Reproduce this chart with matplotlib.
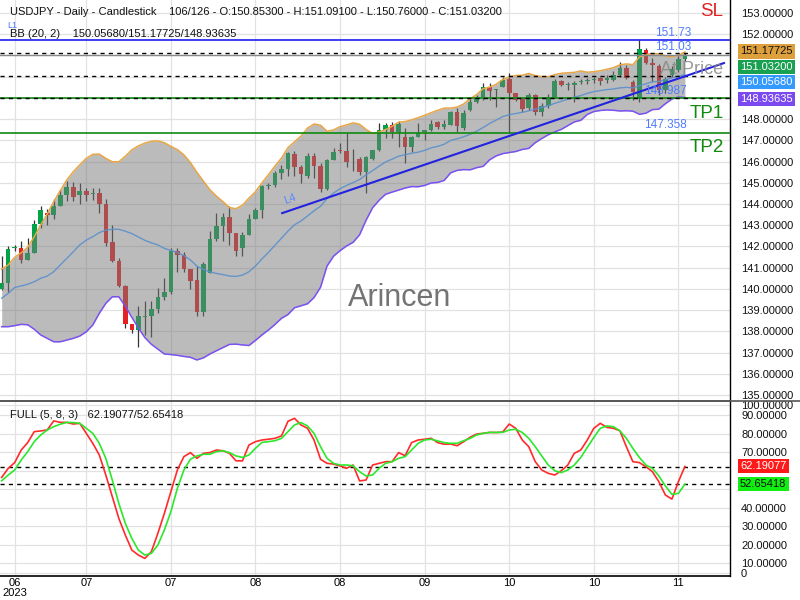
import numpy as np
import pandas as pd
import matplotlib
matplotlib.use("Agg")
import matplotlib.pyplot as plt

plt.rcParams['font.family'] = ['Liberation Sans', 'DejaVu Sans']

# ---------------- data ----------------
opens = [139.99, 140.29, 141.92, 141.93, 141.36, 141.69, 143.06, 143.58, 143.50, 143.92,
         144.42, 144.81, 144.42, 144.61, 144.45, 144.53, 144.00, 142.22, 141.31, 140.14,
         138.35, 138.06, 138.70, 138.72, 139.07, 139.63, 139.85, 141.78, 141.58, 140.92,
         140.42, 138.93, 140.76, 142.35, 142.96, 143.37, 142.62, 141.91, 142.54, 143.29,
         143.72, 144.84, 144.89, 145.44, 145.65, 146.35, 145.73, 145.33, 146.26, 145.79,
         144.71, 146.07, 146.56, 146.50, 146.05, 146.12, 145.52, 146.10, 146.54, 147.48,
         147.72, 147.40, 147.14, 146.67, 147.17, 147.39, 147.48, 147.88, 147.64, 147.72,
         148.32, 147.56, 148.43, 148.82, 149.05, 149.50, 149.35, 149.52, 149.89, 149.21,
         148.93, 148.51, 149.13, 148.35, 148.62, 149.06, 149.79, 149.60, 149.61, 149.74,
         149.78, 149.85, 149.92, 149.84, 149.84, 150.08, 150.39, 149.76, 148.98, 151.27,
         150.62, 150.50, 149.38, 150.08, 150.30, 150.853]
highs = [141.55, 142.02, 142.05, 142.26, 142.41, 143.25, 143.92, 143.75, 144.22, 144.66,
         145.08, 145.05, 145.00, 144.74, 144.74, 144.74, 144.22, 143.01, 141.44, 140.18,
         138.35, 139.19, 139.43, 139.44, 140.03, 140.50, 141.91, 141.91, 141.75, 140.92,
         141.08, 141.28, 142.74, 143.56, 143.59, 143.91, 142.65, 142.69, 143.53, 143.80,
         144.89, 145.00, 145.57, 145.84, 146.46, 146.50, 145.84, 146.41, 146.39, 145.92,
         146.10, 146.65, 146.86, 147.36, 146.58, 146.23, 146.26, 146.56, 147.80, 147.83,
         147.85, 147.91, 147.56, 147.20, 147.80, 147.50, 147.96, 147.90, 147.96, 148.40,
         148.51, 148.43, 148.93, 149.13, 149.68, 149.68, 149.40, 150.00, 150.18, 149.25,
         149.00, 149.22, 149.17, 148.74, 149.17, 149.89, 149.84, 149.76, 149.79, 149.87,
         149.95, 150.00, 149.98, 150.08, 150.26, 150.70, 150.55, 149.84, 151.72, 151.33,
         150.86, 150.58, 150.00, 150.52, 150.95, 151.091]
lows = [139.95, 139.87, 141.80, 141.24, 141.36, 141.69, 142.85, 143.01, 143.29, 143.90,
        144.14, 144.15, 144.01, 144.15, 144.18, 143.59, 142.02, 141.28, 140.10, 138.14,
        137.94, 137.28, 137.83, 137.72, 138.88, 139.48, 139.76, 140.78, 140.78, 139.98,
        138.72, 138.72, 140.73, 142.27, 142.27, 142.07, 141.56, 141.56, 142.54, 143.29,
        143.33, 144.70, 144.79, 145.16, 145.33, 145.33, 144.97, 145.21, 145.21, 144.58,
        144.66, 146.07, 146.39, 145.72, 145.55, 145.36, 144.50, 146.05, 146.51, 147.09,
        147.09, 146.67, 145.94, 146.47, 147.14, 147.01, 147.45, 147.55, 147.55, 147.70,
        147.40, 147.48, 148.40, 148.74, 148.90, 148.90, 148.58, 149.50, 147.36, 148.85,
        148.32, 148.45, 148.19, 148.14, 148.54, 149.02, 149.57, 149.37, 148.82, 149.65,
        149.64, 149.68, 149.60, 149.68, 149.80, 150.00, 149.87, 148.90, 148.80, 150.58,
        149.76, 149.15, 149.21, 149.98, 150.20, 150.76]
closes = [140.26, 141.88, 141.95, 141.36, 141.69, 143.06, 143.72, 143.50, 143.90, 144.42,
          144.80, 144.31, 144.61, 144.42, 144.50, 144.00, 142.15, 141.33, 140.14, 138.35,
          138.06, 138.72, 138.74, 139.04, 139.63, 139.85, 141.78, 141.58, 140.92, 140.39,
          138.93, 141.17, 142.35, 142.96, 143.40, 142.65, 141.80, 142.54, 143.29, 143.72,
          144.85, 144.87, 145.44, 145.65, 146.39, 145.73, 145.41, 146.27, 145.79, 144.69,
          146.07, 146.43, 146.50, 145.99, 146.09, 145.52, 146.23, 146.54, 147.48, 147.72,
          147.40, 147.77, 146.67, 147.14, 147.36, 147.48, 147.77, 147.64, 147.77, 148.33,
          147.67, 148.28, 148.82, 149.01, 149.50, 149.34, 149.38, 149.84, 149.21, 148.90,
          148.46, 149.15, 148.35, 148.63, 149.06, 149.79, 149.60, 149.65, 149.71, 149.78,
          149.80, 149.88, 149.81, 149.92, 150.08, 150.39, 149.92, 149.29, 151.30, 150.62,
          150.55, 149.35, 149.90, 150.35, 150.85, 151.032]

# Bollinger values of the first 19 bars (their window starts before the visible data)
bb_upper_head = [140.94, 141.13, 141.49, 141.70, 141.96, 142.46, 143.01, 143.53, 144.11, 144.63,
                 145.13, 145.52, 145.84, 146.15, 146.34, 146.35, 146.15, 145.99, 145.99]
bb_mid_head = [139.56, 139.79, 140.07, 140.14, 140.22, 140.34, 140.50, 140.61, 140.81, 141.13,
               141.44, 141.75, 142.07, 142.30, 142.46, 142.65, 142.77, 142.81, 142.81]
bb_lower_head = [138.22, 138.22, 138.27, 138.33, 138.31, 138.10, 137.83, 137.67, 137.51, 137.51,
                 137.59, 137.67, 137.78, 137.98, 138.30, 138.85, 139.32, 139.63, 139.63]

stoch_k = [56.3, 61.2, 64.3, 71.1, 75.1, 81.0, 81.4, 81.9, 86.8, 86.0,
           86.0, 85.1, 85.5, 80.1, 74.7, 68.4, 57.6, 45.9, 34.2, 25.2,
           17.1, 14.4, 12.6, 16.2, 26.1, 36.9, 48.6, 60.3, 67.5, 69.7,
           66.6, 69.3, 69.7, 71.1, 70.7, 69.3, 65.3, 65.2, 73.8, 75.6,
           76.5, 76.9, 77.4, 78.7, 86.6, 88.2, 84.6, 82.8, 76.5, 66.1,
           63.9, 63.5, 62.5, 61.2, 63.0, 54.4, 54.9, 63.0, 63.9, 64.8,
           64.8, 69.7, 68.0, 75.1, 76.5, 76.9, 77.4, 75.1, 74.2, 74.3,
           73.4, 75.6, 78.0, 79.7, 80.1, 80.6, 80.5, 80.8, 85.1, 82.8,
           76.5, 72.9, 64.8, 60.3, 58.5, 57.6, 59.9, 63.0, 69.3, 71.1,
           76.5, 82.8, 85.5, 83.3, 82.8, 81.5, 72.9, 64.8, 64.3, 62.1,
           59.4, 54.0, 46.8, 44.6, 54.0, 62.19077]
stoch_d = [54.5, 57.6, 60.3, 65.7, 70.2, 75.6, 79.2, 81.9, 83.7, 85.0,
           86.0, 85.9, 85.5, 82.8, 80.1, 74.7, 66.6, 54.9, 42.3, 31.5,
           23.4, 17.1, 14.4, 15.3, 19.8, 27.9, 37.8, 50.4, 60.3, 66.1,
           67.9, 68.8, 68.8, 70.2, 70.7, 69.7, 67.9, 67.1, 68.4, 72.0,
           75.2, 75.6, 76.1, 77.4, 81.0, 84.6, 85.9, 84.1, 80.1, 72.9,
           66.6, 63.9, 63.0, 63.0, 62.6, 59.4, 57.1, 57.6, 61.2, 63.9,
           64.8, 66.6, 67.5, 71.1, 74.7, 76.5, 76.9, 76.0, 75.1, 74.7,
           74.7, 76.1, 77.4, 79.2, 80.1, 80.6, 80.6, 80.6, 81.9, 82.3,
           80.6, 77.4, 72.9, 67.9, 63.0, 59.9, 58.9, 60.3, 63.0, 67.1,
           72.5, 77.9, 82.8, 84.1, 83.7, 81.5, 77.4, 72.0, 67.1, 63.0,
           61.2, 57.1, 51.7, 47.2, 47.7, 52.65418]

x_tick_idx = [2, 13, 26, 39, 52, 65, 78, 91, 104]
x_tick_labels = ['06\n2023', '07', '07', '08', '08', '09', '10', '10', '11']

line_l1 = 151.73
dash_levels = [151.13, 150.04, 148.987]
tp_levels = [148.987, 147.358]
last_price = 151.032
l4_start = (43.1, 143.57)
l4_end = (111.0, 150.64)

price_ticks = [153, 152, 148, 147, 146, 145, 144, 143, 142, 141, 140, 139, 138, 137, 136, 135]

# ---------------- figure ----------------
W, H = 800, 600
fig = plt.figure(figsize=(8, 6), dpi=100)


def fx(px):
    return px / W


def fy(py):
    return 1 - py / H


ax = fig.add_axes([0, fy(401), fx(730), fy(0) - fy(401)])
ax2 = fig.add_axes([0, fy(576), fx(730), fy(402) - fy(576)])

n = len(closes)
idx = np.arange(n)
o = np.array(opens)
c = np.array(closes)
hi = np.array(highs)
lo = np.array(lows)

xlim = (-0.26, 111.93)
ax.set_xlim(*xlim)
ax.set_ylim(134.72, 153.61)
ax2.set_xlim(*xlim)
ax2.set_ylim(3.1, 97.0)

grid_c = '#e2e2e2'
for p in range(135, 154):
    ax.axhline(p, color=grid_c, lw=0.9, zorder=0)
for t in x_tick_idx:
    ax.axvline(t, color=grid_c, lw=0.9, zorder=0)
    ax2.axvline(t, color=grid_c, lw=0.9, zorder=0)
for v in [4.9, 10, 20, 30, 40, 50, 60, 70, 80, 90, 95.5]:
    ax2.axhline(v, color=grid_c, lw=0.9, zorder=0)

# candles
up = c >= o
body_col = np.where(up, '#00a347', '#e52222')
ax.vlines(idx, lo, hi, color='#333333', lw=0.9, zorder=2)
body_bot = np.minimum(o, c)
body_h = np.maximum(np.abs(c - o), 0.045)
ax.bar(idx, body_h, bottom=body_bot, width=0.7, color=body_col, lw=0, zorder=3)

# Bollinger bands
s = pd.Series(c)
mid = s.rolling(20).mean().to_numpy()
sd = s.rolling(20).std(ddof=0).to_numpy()
upper = mid + 2 * sd
lower = mid - 2 * sd
k0 = len(bb_mid_head)
mid[:k0] = bb_mid_head
upper[:k0] = bb_upper_head
lower[:k0] = bb_lower_head

ax.fill_between(idx, lower, upper, color='#787878', alpha=0.5, lw=0, zorder=4)
ax.plot(idx, upper, color='#e8a645', lw=1.1, zorder=5)
ax.plot(idx, lower, color='#7a52f2', lw=1.1, zorder=5)
ax.plot(idx, mid, color='#5b90cc', lw=1.0, alpha=0.9, zorder=5)

# level lines
ax.axhline(line_l1, color='#1c1cf0', lw=1.2, zorder=6)
for lv in tp_levels:
    ax.axhline(lv, color='#108a10', lw=1.2, zorder=6)
for lv in dash_levels:
    ax.axhline(lv, color='black', lw=1.0, ls=(0, (3, 3)), zorder=7)
ax.axhline(last_price, color='#888888', lw=1.0, zorder=6)
ax.plot([l4_start[0], l4_end[0]], [l4_start[1], l4_end[1]], color='#2222e0', lw=1.5, zorder=7)

# stochastic
ax2.axhline(stoch_k[-1], color='black', lw=1.0, ls=(0, (3, 3)), zorder=2)
ax2.axhline(stoch_d[-1], color='black', lw=1.0, ls=(0, (3, 3)), zorder=2)
ax2.plot(idx, stoch_k, color='#ff2a2a', lw=1.2, zorder=3)
ax2.plot(idx, stoch_d, color='#2ce82c', lw=1.2, zorder=4)

# axes styling
for a in (ax, ax2):
    for sp in ('top', 'left'):
        a.spines[sp].set_visible(False)
    a.spines['right'].set_color('black')
    a.spines['right'].set_linewidth(1.0)
    a.yaxis.tick_right()
    a.tick_params(axis='y', length=0, pad=8, labelsize=8, labelcolor='#111111')
ax.spines['bottom'].set_color('#555555')
ax.spines['bottom'].set_linewidth(1.2)
ax.set_xticks([])
ax.set_yticks(price_ticks)
ax.set_yticklabels([f'{p:.5f}' for p in price_ticks])

ax2.spines['bottom'].set_color('black')
ax2.spines['bottom'].set_linewidth(1.2)
ax2.set_yticks([95.5, 90, 80, 70, 40, 30, 20, 10, 4.9])
ax2.set_yticklabels(['100.00000', '90.00000', '80.00000', '70.00000', '40.00000',
                     '30.00000', '20.00000', '10.00000', '0'])
ax2.set_xticks(x_tick_idx)
ax2.set_xticklabels(x_tick_labels, fontsize=8, linespacing=0.95)
ax2.tick_params(axis='x', length=0, pad=1.5)

# separator line
fig.add_artist(plt.Line2D([0, 1], [fy(401), fy(401)], color='#555555', lw=1.2))

# header texts
fig.text(fx(10), fy(12), 'USDJPY - Daily - Candlestick    106/126 - O:150.85300 - H:151.09100 - L:150.76000 - C:151.03200',
         fontsize=8, va='center', ha='left', color='#111111')
fig.text(fx(10), fy(34), 'BB (20, 2)    150.05680/151.17725/148.93635',
         fontsize=8, va='center', ha='left', color='#111111', zorder=10)
fig.text(fx(7), fy(25), 'L1', fontsize=6.5, color='#4a78ff', va='center', ha='left')
fig.text(fx(10), fy(415), 'FULL (5, 8, 3)   62.19077/52.65418',
         fontsize=8, va='center', ha='left', color='#111111')

# line annotations
lab_c = '#4d7cff'
fig.text(fx(655), fy(33), '151.73', fontsize=8.5, color=lab_c, va='center', ha='left')
fig.text(fx(655), fy(47), '151.03', fontsize=8.5, color=lab_c, va='center', ha='left')
fig.text(fx(644), fy(91), '148.987', fontsize=8.5, color=lab_c, va='center', ha='left')
fig.text(fx(644), fy(125), '147.358', fontsize=8.5, color=lab_c, va='center', ha='left')
fig.text(fx(700), fy(12), 'SL', fontsize=13.5, color='#e02020', va='center', ha='left')
fig.text(fx(690), fy(113), 'TP1', fontsize=13.5, color='#108a10', va='center', ha='left')
fig.text(fx(690), fy(147), 'TP2', fontsize=13.5, color='#108a10', va='center', ha='left')
fig.text(fx(660), fy(70), 'At Price', fontsize=13, color='#888888', alpha=0.85, va='center', ha='left')
fig.text(fx(283), fy(199), 'L4', fontsize=8, color='#5a88ff', rotation=19, va='center', ha='left')
fig.text(fx(400), fy(298), 'Arincen', fontsize=22, color='#747474', va='center', ha='center')


def box_label(py, text, fc, tc):
    fig.text(fx(740), fy(py), text, color=tc, fontsize=8, va='center', ha='left',
             bbox=dict(boxstyle='square,pad=0.22', fc=fc, ec='none'))


box_label(51.5, '151.17725', '#dea03c', '#111111')
box_label(67, '151.03200', '#19a050', 'white')
box_label(82, '150.05680', '#3399ff', 'white')
box_label(99, '148.93635', '#7a4af0', 'white')
box_label(466, '62.19077', '#ff1a1a', 'white')
box_label(484, '52.65418', '#11ee11', '#111111')

fig.savefig('out.png', dpi=100)
